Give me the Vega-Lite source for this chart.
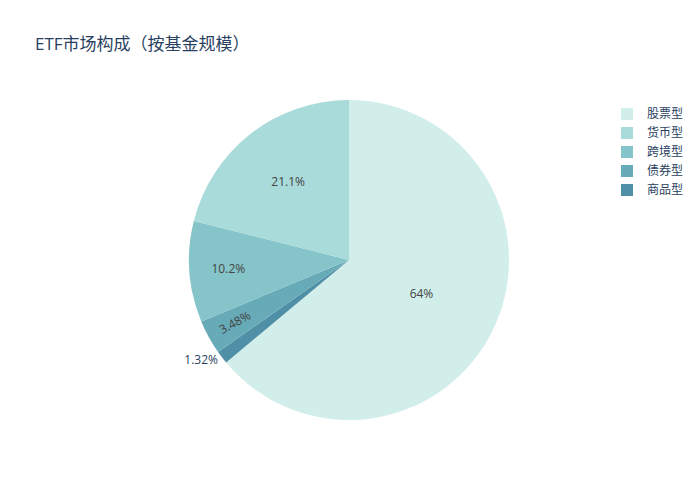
{
  "$schema": "https://vega.github.io/schema/vega-lite/v6.json",
  "width": 320,
  "height": 320,
  "autosize": {"type": "none"},
  "padding": {"left": 189, "top": 100, "right": 191, "bottom": 80},
  "background": "white",
  "title": {
    "text": "ETF市场构成（按基金规模）",
    "anchor": "start",
    "frame": "group",
    "dx": -154,
    "offset": 33,
    "baseline": "alphabetic",
    "font": "Open Sans, Noto Sans CJK SC",
    "fontSize": 17,
    "fontWeight": "normal",
    "color": "#2a3f5f"
  },
  "config": {
    "view": {"stroke": null},
    "font": "Open Sans, Noto Sans CJK SC",
    "text": {"fontSize": 12, "color": "#444444"}
  },
  "data": {
    "values": [
      {"category": "股票型", "value": 0.64},
      {"category": "商品型", "value": 0.0132},
      {"category": "债券型", "value": 0.0348},
      {"category": "跨境型", "value": 0.102},
      {"category": "货币型", "value": 0.211}
    ]
  },
  "transform": [
    {"window": [{"op": "row_number", "as": "idx"}]}
  ],
  "encoding": {
    "theta": {"field": "value", "type": "quantitative", "stack": true},
    "order": {"field": "idx", "type": "quantitative"}
  },
  "layer": [
    {
      "mark": {"type": "arc", "stroke": null},
      "encoding": {
        "color": {
          "field": "category",
          "type": "nominal",
          "scale": {
            "domain": ["股票型", "货币型", "跨境型", "债券型", "商品型"],
            "range": ["#d1eeea", "#a8dbd9", "#85c4c9", "#68abb8", "#4f90a6"]
          },
          "legend": {
            "title": null,
            "orient": "none",
            "legendX": 432,
            "legendY": 8,
            "symbolType": "square",
            "symbolSize": 144,
            "symbolStrokeWidth": 0,
            "symbolOpacity": 1,
            "labelFontSize": 12,
            "labelColor": "#2a3f5f",
            "labelOffset": 14,
            "rowPadding": 7
          }
        }
      }
    },
    {
      "mark": {"type": "text", "radius": 80},
      "encoding": {
        "text": {
          "condition": {"test": "datum.category === '股票型'", "field": "value", "type": "quantitative", "format": ".3~%"},
          "value": ""
        }
      }
    },
    {
      "mark": {"type": "text", "radius": 99},
      "encoding": {
        "text": {
          "condition": {"test": "datum.category === '货币型'", "field": "value", "type": "quantitative", "format": ".3~%"},
          "value": ""
        }
      }
    },
    {
      "mark": {"type": "text", "radius": 121},
      "encoding": {
        "text": {
          "condition": {"test": "datum.category === '跨境型'", "field": "value", "type": "quantitative", "format": ".3~%"},
          "value": ""
        }
      }
    },
    {
      "mark": {"type": "text", "radius": 130, "angle": 331},
      "encoding": {
        "text": {
          "condition": {"test": "datum.category === '债券型'", "field": "value", "type": "quantitative", "format": ".3~%"},
          "value": ""
        }
      }
    },
    {
      "mark": {"type": "text", "radius": 180, "dx": -5, "dy": -9, "color": "#2a3f5f"},
      "encoding": {
        "text": {
          "condition": {"test": "datum.category === '商品型'", "field": "value", "type": "quantitative", "format": ".3~%"},
          "value": ""
        }
      }
    }
  ]
}
